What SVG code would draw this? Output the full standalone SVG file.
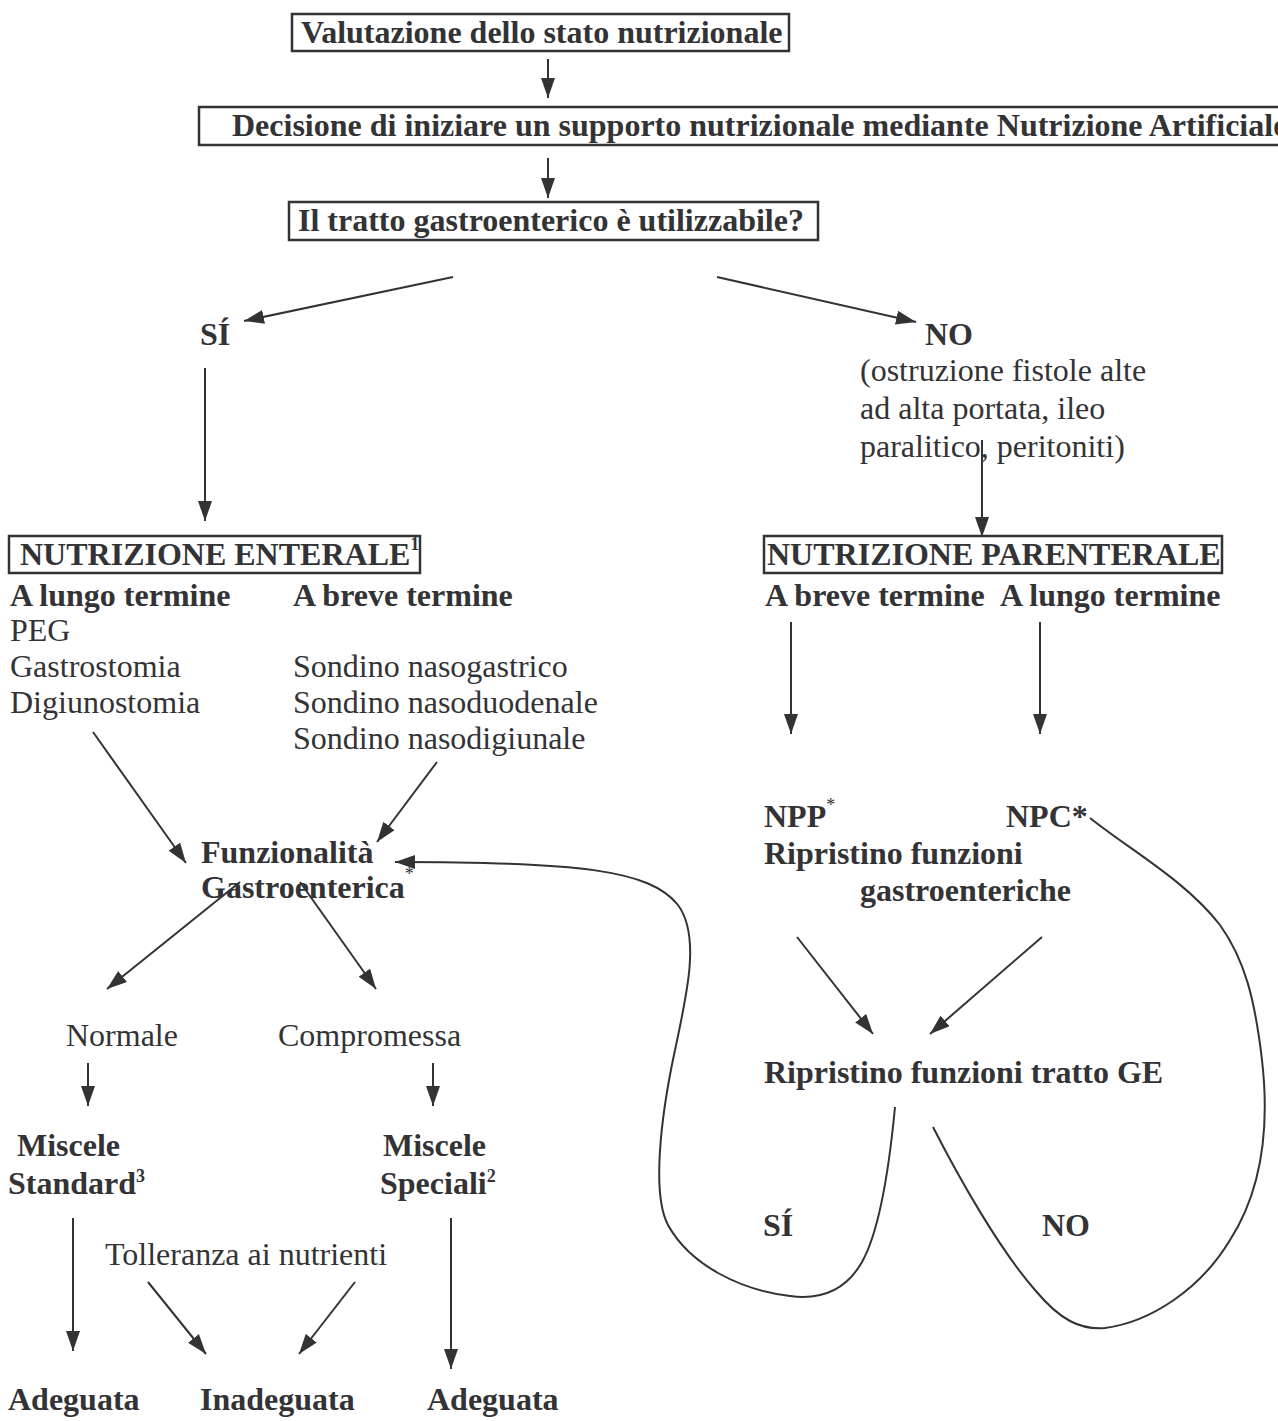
<svg xmlns="http://www.w3.org/2000/svg" width="1278" height="1421" viewBox="0 0 1278 1421">
<style>
text{font-family:"Liberation Serif","Times New Roman",serif;font-size:32px;fill:#333336}
.b{font-weight:bold}
.sup{font-size:18px}
.box{fill:none;stroke:#333336;stroke-width:2.5}
.ln{fill:none;stroke:#333336;stroke-width:2}
</style>
<defs>
<marker id="ah" viewBox="0 0 20 14" refX="20" refY="7" markerWidth="20" markerHeight="14" markerUnits="userSpaceOnUse" orient="auto">
<path d="M0,0 L20,7 L0,14 Z" fill="#333336"/>
</marker>
</defs>
<rect width="1278" height="1421" fill="#fff"/>

<g id="n-valutazione"><rect class="box" x="292" y="14" width="497" height="37"/><text class="b" x="301" y="43">Valutazione dello stato nutrizionale</text></g>
<g id="n-decisione"><rect class="box" x="199" y="107" width="1110" height="38"/><text class="b" x="232" y="136">Decisione di iniziare un supporto nutrizionale mediante Nutrizione Artificiale</text></g>
<g id="n-tratto"><rect class="box" x="289" y="202" width="529" height="38"/><text class="b" x="298" y="231">Il tratto gastroenterico è utilizzabile?</text></g>
<g id="n-si"><text class="b" x="200" y="345">SÍ</text></g>
<g id="n-no"><text class="b" x="925" y="345">NO</text><text x="860" y="381">(ostruzione fistole alte</text><text x="860" y="419">ad alta portata, ileo</text><text x="860" y="457">paralitico, peritoniti)</text></g>

<g id="n-enterale"><rect class="box" x="9" y="536" width="411" height="37"/><text class="b" x="20" y="565">NUTRIZIONE ENTERALE<tspan class="sup" dy="-15">1</tspan></text></g>
<g id="n-ent-lungo"><text class="b" x="10" y="606">A lungo termine</text><text x="10" y="641">PEG</text><text x="10" y="677">Gastrostomia</text><text x="10" y="713">Digiunostomia</text></g>
<g id="n-ent-breve"><text class="b" x="293" y="606">A breve termine</text><text x="293" y="677">Sondino nasogastrico</text><text x="293" y="713">Sondino nasoduodenale</text><text x="293" y="749">Sondino nasodigiunale</text></g>

<g id="n-parenterale"><rect class="box" x="764" y="536" width="458" height="37"/><text class="b" x="767" y="565">NUTRIZIONE PARENTERALE</text></g>
<g id="n-par-breve"><text class="b" x="765" y="606">A breve termine</text></g>
<g id="n-par-lungo"><text class="b" x="1000" y="606">A lungo termine</text></g>

<g id="n-funz"><text class="b" x="201" y="863">Funzionalità</text><text class="b" x="201" y="898">Gastroenterica<tspan class="sup" font-weight="normal" dy="-18">*</tspan></text></g>
<g id="n-npp"><text class="b" x="764" y="827">NPP<tspan class="sup" font-weight="normal" dy="-16">*</tspan></text><text class="b" x="764" y="864">Ripristino funzioni</text><text class="b" x="860" y="901">gastroenteriche</text></g>
<g id="n-npc"><text class="b" x="1006" y="827">NPC*</text></g>
<g id="n-ripristino"><text class="b" x="764" y="1083">Ripristino funzioni tratto GE</text></g>
<g id="n-si2"><text class="b" x="763" y="1236">SÍ</text></g>
<g id="n-no2"><text class="b" x="1042" y="1236">NO</text></g>

<g id="n-normale"><text x="66" y="1046">Normale</text></g>
<g id="n-compromessa"><text x="278" y="1046">Compromessa</text></g>
<g id="n-std"><text class="b" x="17" y="1156">Miscele</text><text class="b" x="8" y="1194">Standard<tspan class="sup" dy="-12">3</tspan></text></g>
<g id="n-spec"><text class="b" x="383" y="1156">Miscele</text><text class="b" x="380" y="1194">Speciali<tspan class="sup" dy="-12">2</tspan></text></g>
<g id="n-toll"><text x="105" y="1265">Tolleranza ai nutrienti</text></g>
<g id="n-adeg1"><text class="b" x="8" y="1410">Adeguata</text></g>
<g id="n-inadeg"><text class="b" x="200" y="1410">Inadeguata</text></g>
<g id="n-adeg2"><text class="b" x="427" y="1410">Adeguata</text></g>

<g id="connectors">
<line class="ln" x1="548" y1="59" x2="548" y2="98" marker-end="url(#ah)"/>
<line class="ln" x1="548" y1="158" x2="548" y2="198" marker-end="url(#ah)"/>
<line class="ln" x1="453" y1="277" x2="244" y2="321" marker-end="url(#ah)"/>
<line class="ln" x1="717" y1="277" x2="916" y2="322" marker-end="url(#ah)"/>
<line class="ln" x1="205" y1="368" x2="205" y2="521" marker-end="url(#ah)"/>
<line class="ln" x1="982" y1="440" x2="982" y2="537" marker-end="url(#ah)"/>
<line class="ln" x1="791" y1="622" x2="791" y2="734" marker-end="url(#ah)"/>
<line class="ln" x1="1040" y1="622" x2="1040" y2="734" marker-end="url(#ah)"/>
<line class="ln" x1="93" y1="732" x2="186" y2="863" marker-end="url(#ah)"/>
<line class="ln" x1="437" y1="762" x2="377" y2="842" marker-end="url(#ah)"/>
<line class="ln" x1="797" y1="937" x2="873" y2="1034" marker-end="url(#ah)"/>
<line class="ln" x1="1042" y1="937" x2="930" y2="1034" marker-end="url(#ah)"/>
<line class="ln" x1="240" y1="882" x2="107" y2="989" marker-end="url(#ah)"/>
<line class="ln" x1="300" y1="882" x2="376" y2="989" marker-end="url(#ah)"/>
<line class="ln" x1="88" y1="1063" x2="88" y2="1106" marker-end="url(#ah)"/>
<line class="ln" x1="433" y1="1063" x2="433" y2="1106" marker-end="url(#ah)"/>
<line class="ln" x1="73" y1="1218" x2="73" y2="1351" marker-end="url(#ah)"/>
<line class="ln" x1="451" y1="1218" x2="451" y2="1369" marker-end="url(#ah)"/>
<line class="ln" x1="148" y1="1282" x2="206" y2="1354" marker-end="url(#ah)"/>
<line class="ln" x1="355" y1="1282" x2="299" y2="1354" marker-end="url(#ah)"/>
<path class="ln" d="M895,1107 C889,1170 880,1230 862,1262 C845,1292 820,1300 790,1296 C740,1290 690,1265 668,1225 C652,1195 660,1120 675,1050 C688,990 700,935 678,905 C650,870 580,862 395,862" marker-end="url(#ah)"/>
<path class="ln" d="M933,1127 C960,1180 1000,1250 1035,1290 C1060,1320 1080,1330 1105,1328 C1150,1322 1200,1290 1230,1240 C1262,1190 1270,1130 1262,1060 C1255,1000 1245,960 1220,925 C1185,880 1130,850 1090,818"/>
</g>
</svg>
